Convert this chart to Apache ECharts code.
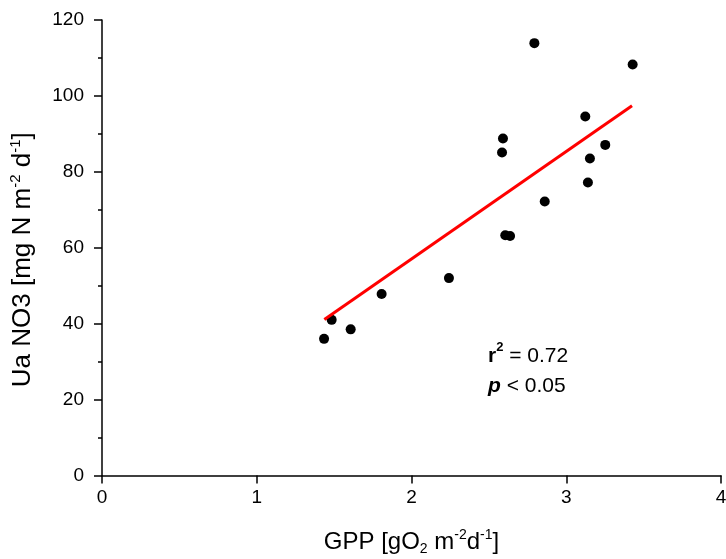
<!DOCTYPE html>
<html>
<head>
<meta charset="utf-8">
<script src="https://cdn.jsdelivr.net/npm/echarts@6/dist/echarts.min.js"></script>
<style>
html,body{margin:0;padding:0;background:#fff;}
#chart{width:726px;height:559px;}
</style>
</head>
<body>
<div id="chart"></div>
<script>
// GPP [gO2 m-2 d-1]
const gpp = [1.435, 1.484, 1.607, 1.807, 2.242, 2.585, 2.591, 2.606, 2.637, 2.794, 2.861, 3.123, 3.140, 3.153, 3.252, 3.429];
// Ua NO3 [mg N m-2 d-1]
const uaNO3 = [36.0, 41.0, 38.5, 47.8, 52.0, 85.1, 88.8, 63.3, 63.1, 113.9, 72.2, 94.6, 77.2, 83.5, 87.1, 108.3];
// regression line end points
const fitX = [1.437, 3.425];
const fitY = [41.1, 97.4];
const xTicks = [0, 1, 2, 3, 4];
const yTicks = [0, 20, 40, 60, 80, 100, 120];

const FONT = 'Liberation Sans, Arial, sans-serif';
const chart = echarts.init(document.getElementById('chart'), null, {renderer: 'canvas'});

const points = gpp.map((x, i) => [x, uaNO3[i]]);
const fit = fitX.map((x, i) => [x, fitY[i]]);

const axisLineStyle = {color: '#000', width: 1.5};

chart.setOption({
  backgroundColor: '#fff',
  animation: false,
  textStyle: {fontFamily: FONT},
  grid: {left: 102, right: 5, top: 20, bottom: 83.5, containLabel: false, outerBoundsMode: 'none'},
  xAxis: {
    type: 'value',
    min: xTicks[0], max: xTicks[xTicks.length - 1], interval: 1,
    axisLine: {show: true, lineStyle: axisLineStyle, onZero: false},
    axisTick: {show: true, length: 8, lineStyle: {color: '#000', width: 1.5}},
    splitLine: {show: false},
    axisLabel: {color: '#000', fontSize: 19, margin: 13, fontFamily: FONT},
    name: 'GPP [gO{sub|2} m{sup|-2}d{sup|-1}]',
    nameLocation: 'middle',
    nameGap: 53,
    nameTextStyle: {
      color: '#000', fontSize: 24, fontFamily: FONT, lineHeight: 28,
      rich: {
        sub: {fontSize: 14, verticalAlign: 'bottom', lineHeight: 4, fontFamily: FONT, color: '#000'},
        sup: {fontSize: 14, verticalAlign: 'top', lineHeight: 16, fontFamily: FONT, color: '#000'}
      }
    }
  },
  yAxis: {
    type: 'value',
    min: yTicks[0], max: yTicks[yTicks.length - 1], interval: 20,
    axisLine: {show: true, lineStyle: axisLineStyle, onZero: false},
    axisTick: {show: true, length: 8, lineStyle: {color: '#000', width: 1.5}},
    minorTick: {show: true, splitNumber: 2, length: 4, lineStyle: {color: '#000', width: 1.5}},
    splitLine: {show: false},
    axisLabel: {color: '#000', fontSize: 19, margin: 18, fontFamily: FONT},
    name: 'Ua NO3 [mg N m{sup|-2} d{sup|-1}]',
    nameLocation: 'middle',
    nameGap: 64,
    nameTextStyle: {
      color: '#000', fontSize: 26, fontFamily: FONT, lineHeight: 30,
      padding: [0, 24, 0, 0],
      rich: {
        sup: {fontSize: 15, verticalAlign: 'top', lineHeight: 17, fontFamily: FONT, color: '#000'}
      }
    }
  },
  series: [
    {
      type: 'scatter',
      data: points,
      symbol: 'circle',
      symbolSize: 10,
      itemStyle: {color: '#000', opacity: 1},
      z: 2
    },
    {
      type: 'line',
      data: fit,
      symbol: 'none',
      lineStyle: {color: '#ff0000', width: 3},
      z: 3
    }
  ],
  graphic: [
    {
      type: 'text',
      left: 488,
      top: 341,
      style: {
        text: '{b|r}{bs|2} = 0.72\n{bi|p} < 0.05',
        fontSize: 21,
        fontFamily: FONT,
        fill: '#000',
        lineHeight: 30,
        rich: {
          b: {fontSize: 21, fontWeight: 'bold', fontFamily: FONT, lineHeight: 30},
          bs: {fontSize: 13, fontWeight: 'bold', verticalAlign: 'top', lineHeight: 20, fontFamily: FONT},
          bi: {fontSize: 21, fontWeight: 'bold', fontStyle: 'italic', fontFamily: FONT, lineHeight: 30}
        }
      }
    }
  ]
});
</script>
</body>
</html>
